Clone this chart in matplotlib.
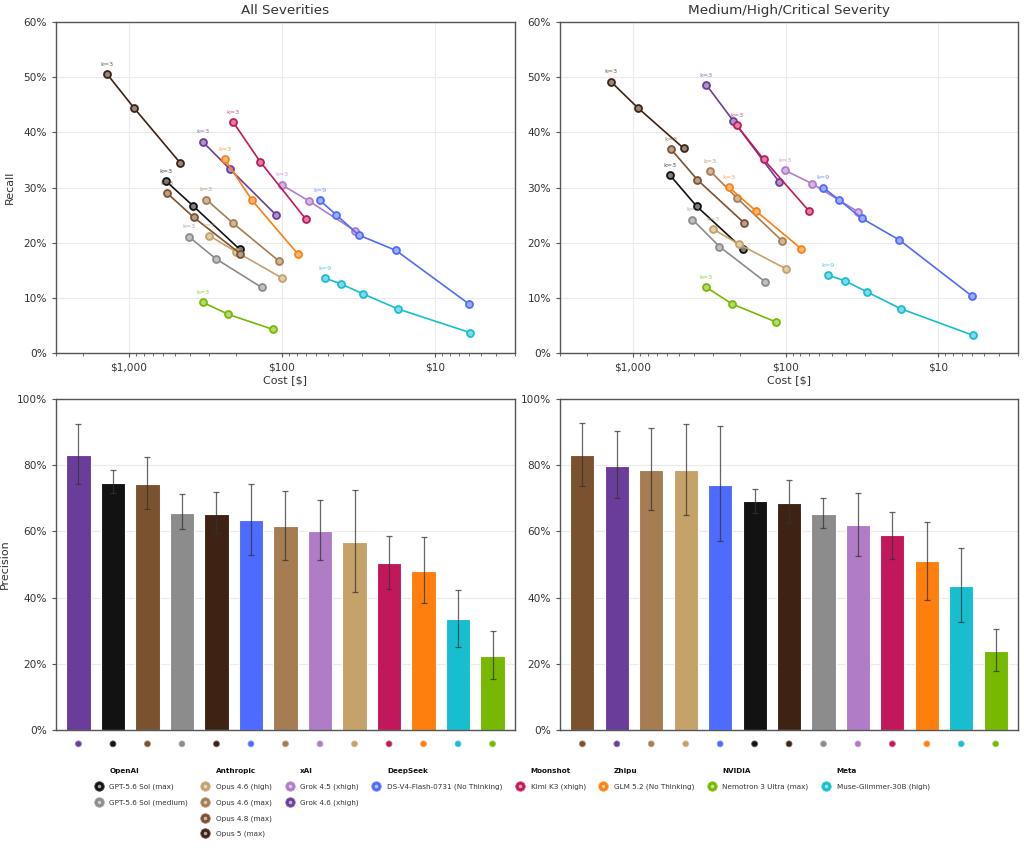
import matplotlib

matplotlib.use("Agg")
import matplotlib.pyplot as plt
from matplotlib.lines import Line2D
from matplotlib.ticker import FuncFormatter, NullFormatter, LogLocator

MODELS = [
    "GPT-5.6 Sol (max)", "GPT-5.6 Sol (medium)",
    "Opus 4.6 (high)", "Opus 4.6 (max)", "Opus 4.8 (max)", "Opus 5 (max)",
    "Grok 4.5 (xhigh)", "Grok 4.6 (xhigh)",
    "DS-V4-Flash-0731 (No Thinking)", "Kimi K3 (xhigh)", "GLM 5.2 (No Thinking)",
    "Nemotron 3 Ultra (max)", "Muse-Glimmer-30B (high)",
]
COLORS = [
    "#121212", "#8c8c8c",
    "#c4a26a", "#a67c52", "#7b5230", "#3e2314",
    "#b07cc6", "#6a3d9a",
    "#4f6bff", "#c2185b", "#ff7f0e",
    "#76b900", "#17becf",
]
GROUPS = [
    ("OpenAI", MODELS[0:2]),
    ("Anthropic", MODELS[2:6]),
    ("xAI", MODELS[6:8]),
    ("DeepSeek", MODELS[8:9]),
    ("Moonshot", MODELS[9:10]),
    ("Zhipu", MODELS[10:11]),
    ("NVIDIA", MODELS[11:12]),
    ("Meta", MODELS[12:13]),
]
K_FIRST = [3, 3, 3, 3, 3, 3, 3, 3, 9, 3, 3, 3, 9]

# cost per run point ($), highest k first
COST = [
    [570, 382, 189], [407, 271, 136],
    [300, 201, 100], [312, 208, 105], [564, 378, 187], [1393, 932, 464],
    [100.5, 67, 33.5], [330, 220, 110],
    [56.7, 44.4, 31.6, 18.0, 6.0], [209, 139, 70], [236, 157, 79],
    [330, 224, 115], [52.6, 40.9, 29.4, 17.5, 5.9],
]
RECALL_ALL = [
    [31.1, 26.7, 18.8], [21.1, 17.1, 11.9],
    [21.3, 18.4, 13.6], [27.8, 23.5, 16.7], [29.0, 24.6, 18.0], [50.6, 44.5, 34.5],
    [30.5, 27.6, 22.2], [38.3, 33.4, 25.1],
    [27.7, 25.1, 21.4, 18.6, 8.9], [41.9, 34.7, 24.3], [35.1, 27.7, 18.0],
    [9.2, 7.0, 4.3], [13.6, 12.5, 10.7, 8.0, 3.7],
]
RECALL_MHC = [
    [32.2, 26.6, 18.8], [24.2, 19.3, 12.9],
    [22.5, 19.7, 15.3], [33.0, 28.1, 20.3], [37.0, 31.4, 23.6], [49.2, 44.5, 37.1],
    [33.1, 30.7, 25.6], [48.6, 42.1, 31.0],
    [30.0, 27.7, 24.4, 20.5, 10.3], [41.3, 35.1, 25.7], [30.1, 25.8, 18.9],
    [11.9, 8.9, 5.6], [14.1, 13.1, 11.1, 8.0, 3.2],
]

PREC_ALL_ORDER = [
    "Grok 4.6 (xhigh)", "GPT-5.6 Sol (max)", "Opus 4.8 (max)", "GPT-5.6 Sol (medium)",
    "Opus 5 (max)", "DS-V4-Flash-0731 (No Thinking)", "Opus 4.6 (max)", "Grok 4.5 (xhigh)",
    "Opus 4.6 (high)", "Kimi K3 (xhigh)", "GLM 5.2 (No Thinking)",
    "Muse-Glimmer-30B (high)", "Nemotron 3 Ultra (max)",
]
PREC_ALL = [83.2, 74.7, 74.3, 65.6, 65.4, 63.4, 61.6, 60.1, 56.9, 50.4, 48.1, 33.4, 22.4]
PREC_ALL_LO = [74.3, 71.5, 66.9, 60.6, 59.4, 52.8, 51.5, 51.4, 41.7, 42.7, 38.5, 25.0, 15.3]
PREC_ALL_HI = [92.3, 78.5, 82.4, 71.2, 72.0, 74.3, 72.1, 69.5, 72.5, 58.6, 58.2, 42.2, 29.9]

PREC_MHC_ORDER = [
    "Opus 4.8 (max)", "Grok 4.6 (xhigh)", "Opus 4.6 (max)", "Opus 4.6 (high)",
    "DS-V4-Flash-0731 (No Thinking)", "GPT-5.6 Sol (max)", "Opus 5 (max)",
    "GPT-5.6 Sol (medium)", "Grok 4.5 (xhigh)", "Kimi K3 (xhigh)",
    "GLM 5.2 (No Thinking)", "Muse-Glimmer-30B (high)", "Nemotron 3 Ultra (max)",
]
PREC_MHC = [83.0, 79.9, 78.6, 78.4, 74.1, 69.1, 68.6, 65.3, 61.9, 58.8, 51.0, 43.5, 24.0]
PREC_MHC_LO = [73.6, 70.2, 66.5, 64.9, 57.0, 65.6, 62.4, 60.9, 52.6, 51.8, 39.4, 32.5, 17.9]
PREC_MHC_HI = [92.6, 90.3, 91.1, 92.3, 91.7, 72.9, 75.4, 70.2, 71.7, 65.9, 62.9, 55.1, 30.5]

SPINE = "#555555"
TXT = "#333333"
GRIDC = "#ebebeb"


def tint(c, f=0.45):
    r, g, b = matplotlib.colors.to_rgb(c)
    return (r + (1 - r) * f, g + (1 - g) * f, b + (1 - b) * f)


def style(ax):
    for s in ax.spines.values():
        s.set_color(SPINE)
        s.set_linewidth(1.0)
    ax.tick_params(colors=SPINE, labelcolor=TXT, labelsize=7.6, width=0.8, length=3)
    ax.tick_params(which="minor", colors=SPINE, width=0.6, length=2)
    ax.set_axisbelow(True)


def pareto(ax, recalls, title):
    for i, name in enumerate(MODELS):
        c = COLORS[i]
        ax.plot(COST[i], recalls[i], "-o", color=c, lw=1.2, ms=5,
                mfc=tint(c), mec=c, mew=1.3, zorder=3)
        ax.annotate(f"k={K_FIRST[i]}", (COST[i][0], recalls[i][0]),
                    xytext=(0, 6), textcoords="offset points", ha="center",
                    fontsize=4.6, color=c, alpha=0.75, zorder=4)
    ax.set_xscale("log")
    ax.set_xlim(3000, 3)
    ax.set_ylim(0, 60)
    ax.xaxis.set_major_locator(LogLocator(base=10))
    ax.xaxis.set_major_formatter(FuncFormatter(lambda v, p: f"${v:,.0f}"))
    ax.xaxis.set_minor_formatter(NullFormatter())
    ax.yaxis.set_major_formatter(FuncFormatter(lambda v, p: f"{v:.0f}%"))
    ax.grid(True, which="major", color=GRIDC, lw=0.8)
    ax.set_xlabel("Cost [$]", fontsize=8, color=TXT, labelpad=2)
    ax.set_title(title, fontsize=9.7, color=TXT, pad=6)
    style(ax)


def bars(ax, order, vals, lo, hi):
    x = list(range(len(order)))
    cols = [COLORS[MODELS.index(n)] for n in order]
    ax.bar(x, vals, width=0.7, color=cols, edgecolor="white", linewidth=0.8, zorder=2)
    ax.errorbar(x, vals, yerr=[[v - l for v, l in zip(vals, lo)], [h - v for v, h in zip(vals, hi)]],
                fmt="none", ecolor="#333333", alpha=0.75, elinewidth=0.9, capsize=2.5,
                capthick=0.9, zorder=3)
    ax.scatter(x, [-0.042] * len(x), s=18, c=cols, edgecolors=[tint(c, 0.3) for c in cols],
               linewidths=0.6, transform=ax.get_xaxis_transform(), clip_on=False)
    ax.set_xlim(-0.65, len(order) - 0.35)
    ax.set_ylim(0, 100)
    ax.set_yticks(range(0, 101, 20))
    ax.yaxis.set_major_formatter(FuncFormatter(lambda v, p: f"{v:.0f}%"))
    ax.set_xticks([])
    ax.grid(True, axis="y", color=GRIDC, lw=0.8)
    style(ax)


fig = plt.figure(figsize=(10.24, 8.48), dpi=100)
ax1 = fig.add_axes([0.0547, 0.5837, 0.4482, 0.3903])
ax2 = fig.add_axes([0.5469, 0.5837, 0.4473, 0.3903])
ax3 = fig.add_axes([0.0547, 0.1392, 0.4482, 0.3903])
ax4 = fig.add_axes([0.5469, 0.1392, 0.4473, 0.3903])

pareto(ax1, RECALL_ALL, "All Severities")
pareto(ax2, RECALL_MHC, "Medium/High/Critical Severity")
ax1.set_ylabel("Recall", fontsize=8, color=TXT, labelpad=6)
bars(ax3, PREC_ALL_ORDER, PREC_ALL, PREC_ALL_LO, PREC_ALL_HI)
bars(ax4, PREC_MHC_ORDER, PREC_MHC, PREC_MHC_LO, PREC_MHC_HI)
ax3.set_ylabel("Precision", fontsize=8, color=TXT, labelpad=5)

# grouped legend: one column per provider, header row on top
blank = Line2D([], [], linestyle="none", marker=None)
handles, labels = [], []
nrows = 1 + max(len(m) for _, m in GROUPS)
for grp, members in GROUPS:
    handles.append(blank)
    labels.append(grp)
    for m in members:
        c = COLORS[MODELS.index(m)]
        big = Line2D([], [], linestyle="none", marker="o", ms=6.8, mfc=c, mec=tint(c, 0.2), mew=0.6)
        dot = Line2D([], [], linestyle="none", marker="o", ms=2.6, mfc=tint(c, 0.6), mec="none")
        handles.append((big, dot))
        labels.append(m)
    for _ in range(nrows - 1 - len(members)):
        handles.append(blank)
        labels.append("")
leg = fig.legend(handles, labels, ncol=len(GROUPS), loc="upper center",
                 bbox_to_anchor=(0.5, 0.099), frameon=False, fontsize=5.2,
                 handlelength=1.2, handletextpad=0.9, columnspacing=1.8,
                 labelspacing=1.3, borderpad=0)
for t in leg.get_texts():
    t.set_color(TXT)
    if t.get_text() in [g for g, _ in GROUPS]:
        t.set_fontweight("bold")
        t.set_color("#111111")

fig.savefig("out.png", dpi=100)
